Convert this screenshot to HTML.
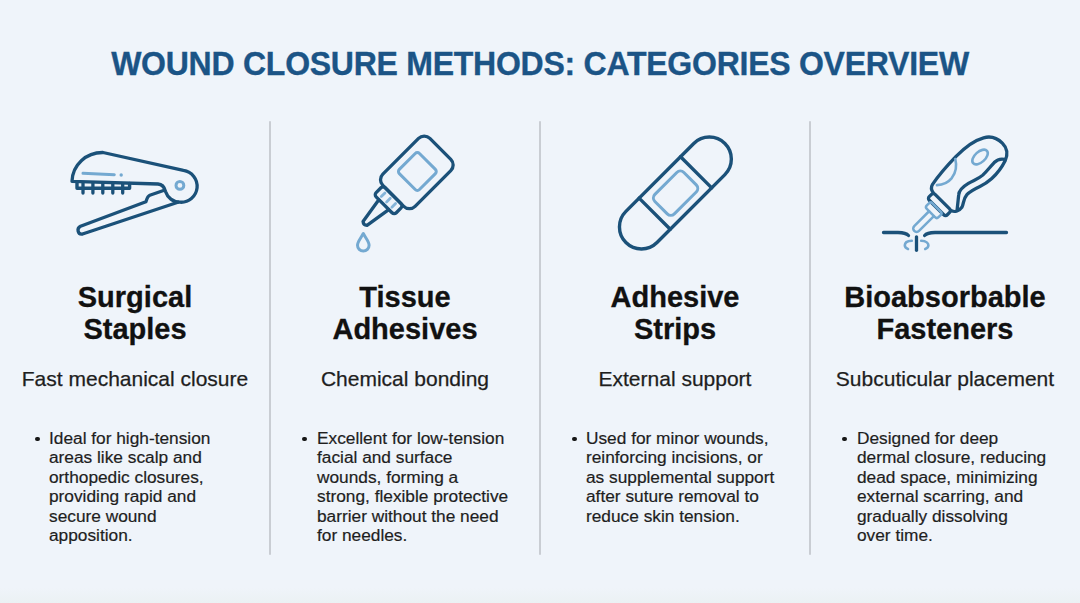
<!DOCTYPE html>
<html><head><meta charset="utf-8">
<style>
html,body{margin:0;padding:0;}
body{width:1080px;height:603px;overflow:hidden;position:relative;background:#eff4fa;font-family:"Liberation Sans",sans-serif;}
.t{position:absolute;white-space:nowrap;}
#title{left:0;width:1080px;top:43.6px;text-align:center;font-size:32px;line-height:40px;font-weight:700;color:#1b5486;letter-spacing:-0.25px;transform:scaleY(1.05);transform-origin:50% 31px;-webkit-text-stroke:0.35px #1b5486;}
.col{position:absolute;top:0;width:270px;height:603px;}
.h{position:absolute;left:0;width:270px;text-align:center;font-size:29px;line-height:32px;font-weight:700;color:#111;top:280.7px;-webkit-text-stroke:0.3px #111;}
.s{position:absolute;left:0;width:270px;text-align:center;font-size:21px;line-height:24px;color:#1e1e1e;top:367px;-webkit-text-stroke:0.25px #1e1e1e;}
.b{position:absolute;font-size:17.3px;line-height:19.4px;color:#1e1e1e;top:429px;white-space:nowrap;-webkit-text-stroke:0.2px #1e1e1e;}
.dot{position:absolute;width:4.6px;height:4.6px;border-radius:50%;background:#161616;top:436.5px;}
.div{position:absolute;top:120.5px;height:434.5px;width:2px;background:#c9cdd3;border-radius:1px;}
#band{position:absolute;left:0;top:588px;width:1080px;height:15px;background:linear-gradient(#eff4fa,#ebf1f3);}
svg{position:absolute;left:0;top:0;}
</style></head>
<body>
<div id="title" class="t">WOUND CLOSURE METHODS: CATEGORIES OVERVIEW</div>

<div id="band"></div>
<div class="div" style="left:269px"></div>
<div class="div" style="left:539px"></div>
<div class="div" style="left:809px"></div>

<div class="col" style="left:0">
  <div class="h">Surgical<br>Staples</div>
  <div class="s">Fast mechanical closure</div>
</div>
<div class="col" style="left:270px">
  <div class="h">Tissue<br>Adhesives</div>
  <div class="s">Chemical bonding</div>
</div>
<div class="col" style="left:540px">
  <div class="h">Adhesive<br>Strips</div>
  <div class="s">External support</div>
</div>
<div class="col" style="left:810px">
  <div class="h">Bioabsorbable<br>Fasteners</div>
  <div class="s">Subcuticular placement</div>
</div>

<div class="dot" style="left:35.2px"></div>
<div class="b" style="left:49px">Ideal for high-tension<br>areas like scalp and<br>orthopedic closures,<br>providing rapid and<br>secure wound<br>apposition.</div>
<div class="dot" style="left:302.4px"></div>
<div class="b" style="left:317px">Excellent for low-tension<br>facial and surface<br>wounds, forming a<br>strong, flexible protective<br>barrier without the need<br>for needles.</div>
<div class="dot" style="left:572.4px"></div>
<div class="b" style="left:586px">Used for minor wounds,<br>reinforcing incisions, or<br>as supplemental support<br>after suture removal to<br>reduce skin tension.</div>
<div class="dot" style="left:842.4px"></div>
<div class="b" style="left:857px">Designed for deep<br>dermal closure, reducing<br>dead space, minimizing<br>external scarring, and<br>gradually dissolving<br>over time.</div>

<svg width="1080" height="603" viewBox="0 0 1080 603" fill="none" stroke-linecap="round" stroke-linejoin="round">

  <g stroke="#1b5179" stroke-width="3.3">
    <!-- staple -->
    <path d="M72,181.3 C72.5,165 86,152.3 103,152.5 L183.4,170.4 A16,16 0 0 1 180,202.2 C173,202.2 167.5,197.5 165.5,191.5 C164.5,187.5 162.5,184.2 158,184 L72,181.3 Z"/>
    <path d="M164.2,190.2 L149.8,195.2 C147.5,196.2 146.9,198.6 145.9,201.8 L80.5,226.2 C76.5,228.2 77.5,234.8 82.5,234 L178,202.2"/>
    <path d="M77,182 L77,188.3 L129.6,188.3 L129.6,183.5" stroke-width="3.4"/>
    <path d="M83,183 V193 M92.9,183 V193 M102.8,183.3 V193 M112.8,183.5 V193 M122.7,183.7 V193"/>
  </g>
  <g stroke="#74a9d1" stroke-width="3">
    <path d="M83,173.3 L114.3,174.8"/>
  </g>
  <circle cx="121.2" cy="175" r="1.7" fill="#74a9d1"/>
  <circle cx="179.9" cy="185.4" r="3.9" stroke="#74a9d1" stroke-width="3"/>

  <!-- glue bottle -->
  <g transform="translate(417,171.5) rotate(-45)">
    <rect x="-34" y="-22.3" width="66.5" height="45.6" rx="8" stroke="#1b5179" stroke-width="3.3"/>
    <rect x="-14" y="-14" width="28.5" height="28.5" rx="3" stroke="#74a9d1" stroke-width="3"/>
    <rect x="-46.8" y="-14" width="12.8" height="28.5" rx="3" stroke="#1b5179" stroke-width="3.3"/>
    <path d="M-43,-7.5 H-37.8 M-43,0 H-37.8 M-43,7.5 H-37.8" stroke="#86b5d9" stroke-width="2.8"/>
    <path d="M-47,-7 L-73.5,-2.8 Q-76,0 -73.5,2.8 L-47,7" stroke="#1b5179" stroke-width="3.3"/>
  </g>
  <path d="M363.3,233.5 C361,238 357.5,241.5 357.5,245.3 A5.8,5.8 0 0 0 369.1,245.3 C369.1,241.5 365.6,238 363.3,233.5 Z" stroke="#74a9d1" stroke-width="3"/>

  <!-- band-aid -->
  <g transform="translate(675.4,193) rotate(-45)">
    <rect x="-70" y="-22" width="140" height="44" rx="22" stroke="#1b5179" stroke-width="3.4"/>
    <path d="M-29.3,-22 V22 M29.3,-22 V22" stroke="#1b5179" stroke-width="3.4"/>
    <rect x="-20.5" y="-13.5" width="41" height="27.5" rx="5" stroke="#74a9d1" stroke-width="3"/>
  </g>

  <!-- bioabsorbable -->
  <g transform="translate(915,229) rotate(-45)">
    <path d="M38.7,-13 C39,-16 40.5,-18.3 44,-19.2 C52,-20.7 64,-22 80,-22.3 C97,-22.6 106,-20 113,-16 C120,-12 122.5,-6 122.5,1 C122.5,8 118.5,13 112,15.5 C106,17.5 98,19 90,18.6 C84,18.3 80,17.3 76,15.8 C71,14 66,12.2 61,12.4 C55,12.8 52,17 48.5,17.8 C44,18.5 40,16.5 38.7,13" stroke="#1b5179" stroke-width="3.3"/>
    <path d="M112.5,14 C110.5,11 107,9 103,9 C97,9.2 92,10 86,9.8 C80,9.4 76,7 70,5.5 C64,4 58,4 55,6.8 C51,10 48,12.5 43,16.5" stroke="#1b5179" stroke-width="3.3"/>
    <path d="M78,-21 C75,-16 69,-11 62,-10 C57,-9.5 51,-11.5 46.5,-15.5" stroke="#74a9d1" stroke-width="2.6"/>
    <ellipse cx="96.9" cy="-4.9" rx="9.3" ry="5.2" transform="rotate(3 96.9 -4.9)" stroke="#74a9d1" stroke-width="2.6"/>
    <rect x="30.4" y="-12.8" width="8.3" height="25.6" rx="2.5" stroke="#1b5179" stroke-width="3.3"/>
    <rect x="22.5" y="-8.3" width="8" height="16.6" rx="2.5" stroke="#74a9d1" stroke-width="2.5"/>
    <path d="M22.5,-2.6 L1.5,-2.6 A3.4,3.4 0 0 0 1.5,4.2 L22.5,4.2" stroke="#74a9d1" stroke-width="2.5"/>
  </g>
  <g stroke="#1b5179" stroke-width="3.3">
    <path d="M883.5,232.5 L898,232.5 Q906,232.8 908.5,235.5"/>
    <path d="M924.6,235.5 Q927,232.8 935,232.5 L1006.5,232.5"/>
    <path d="M916.5,236.8 V250.3"/>
  </g>
  <g stroke="#74a9d1" stroke-width="2.6">
    <path d="M911.8,240.8 C906.5,241 904.8,243.5 904.8,245.3 C904.8,247 906,248.3 908,249"/>
    <path d="M921.2,240.8 C926.5,241 928.4,243.5 928.4,245.3 C928.4,247 927.2,248.3 925.2,249"/>
  </g>
</svg>
</body></html>
